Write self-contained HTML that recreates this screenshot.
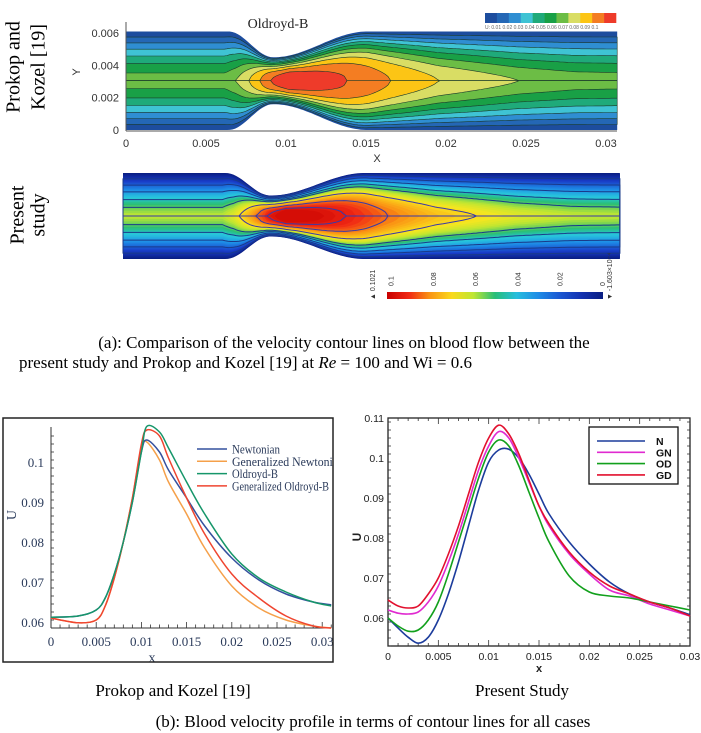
<!DOCTYPE html>
<html><head><meta charset="utf-8"><style>
html,body{margin:0;padding:0;background:#fff;}
body{width:701px;height:733px;overflow:hidden;position:relative;font-family:"Liberation Serif",serif;}
svg{position:absolute;left:0;top:0;}
</style></head><body>
<svg id="fig" width="701" height="733" viewBox="0 0 701 733" xmlns="http://www.w3.org/2000/svg">
<g id="top1"></g>
<g id="top2"></g>
<g id="chartL"></g>
<g id="chartR"></g>
<text x="15" y="67" transform="rotate(-90 15 67)" text-anchor="middle" dominant-baseline="middle" font-size="20">Prokop  and</text>
<text x="40" y="67" transform="rotate(-90 40 67)" text-anchor="middle" dominant-baseline="middle" font-size="20">Kozel [19]</text>
<text x="19" y="215" transform="rotate(-90 19 215)" text-anchor="middle" dominant-baseline="middle" font-size="20">Present</text>
<text x="40" y="215" transform="rotate(-90 40 215)" text-anchor="middle" dominant-baseline="middle" font-size="20">study</text>
<text x="344" y="348" text-anchor="middle" font-size="17">(a): Comparison of the velocity contour lines on blood flow between the</text>
<text x="19" y="368" font-size="17">present study and Prokop and Kozel [19] at <tspan font-style="italic">Re</tspan> = 100 and Wi = 0.6</text>
<text x="173" y="696" text-anchor="middle" font-size="17">Prokop and Kozel [19]</text>
<text x="522" y="696" text-anchor="middle" font-size="17">Present Study</text>
<text x="373" y="727" text-anchor="middle" font-size="17">(b): Blood velocity profile in terms of contour lines for all cases</text>
</svg>
<script>
const NS="http://www.w3.org/2000/svg";
function mk(parent,tag,attrs,txt){const e=document.createElementNS(NS,tag);for(const k in attrs)e.setAttribute(k,attrs[k]);if(txt!==undefined)e.textContent=txt;parent.appendChild(e);return e;}

// ---------- line chart data ----------
const xsL=[0,0.003,0.005,0.006,0.007,0.008,0.009,0.010,0.0106,0.012,0.013,0.015,0.017,0.020,0.023,0.026,0.029,0.031];
const uL_N=[0.0612,0.0615,0.063,0.066,0.072,0.080,0.090,0.1025,0.1055,0.1025,0.098,0.091,0.084,0.076,0.0705,0.067,0.065,0.0643];
const uL_GN=[0.061,0.0598,0.0605,0.064,0.071,0.080,0.091,0.1035,0.105,0.1005,0.095,0.087,0.0785,0.069,0.0635,0.0605,0.059,0.0585];
const uL_OD=[0.0612,0.0615,0.063,0.066,0.072,0.080,0.090,0.1025,0.1089,0.1075,0.1035,0.095,0.087,0.077,0.071,0.0675,0.065,0.064];
const uL_GD=[0.061,0.0598,0.0605,0.064,0.071,0.080,0.091,0.1045,0.108,0.1065,0.101,0.091,0.082,0.072,0.066,0.0615,0.059,0.0585];
const xsR=[0,0.001,0.002,0.003,0.004,0.005,0.006,0.007,0.008,0.009,0.010,0.011,0.012,0.013,0.014,0.015,0.016,0.018,0.020,0.022,0.024,0.026,0.028,0.030];
const uR_N=[0.060,0.0575,0.0552,0.0537,0.0552,0.0595,0.066,0.074,0.083,0.092,0.099,0.102,0.1022,0.100,0.096,0.091,0.086,0.079,0.0735,0.069,0.066,0.064,0.0625,0.0608];
const uR_GN=[0.062,0.0612,0.061,0.0615,0.064,0.068,0.074,0.081,0.089,0.097,0.103,0.1066,0.105,0.100,0.094,0.088,0.083,0.076,0.071,0.067,0.0655,0.0635,0.062,0.0605];
const uR_OD=[0.060,0.058,0.0567,0.057,0.0595,0.064,0.071,0.079,0.087,0.095,0.1015,0.1045,0.103,0.098,0.0915,0.085,0.079,0.0705,0.0665,0.0655,0.065,0.064,0.063,0.062];
const uR_GD=[0.0645,0.063,0.0625,0.063,0.066,0.070,0.076,0.083,0.091,0.099,0.105,0.1082,0.106,0.101,0.0945,0.088,0.0835,0.0765,0.0715,0.068,0.066,0.064,0.0625,0.0605];
const xTicks=[0,0.005,0.01,0.015,0.02,0.025,0.03];
const xTickLabels=["0","0.005","0.01","0.015","0.02","0.025","0.03"];
const yTicksL=[0.06,0.07,0.08,0.09,0.1];
const yTickLabelsL=["0.06","0.07","0.08","0.09","0.1"];
const yTicksR=[0.06,0.07,0.08,0.09,0.1,0.11];
const yTickLabelsR=["0.06","0.07","0.08","0.09","0.1","0.11"];
const legendL=["Newtonian","Generalized Newtonian","Oldroyd-B","Generalized Oldroyd-B"];
const legendR=["N","GN","OD","GD"];

function smoothPath(pts){let d="M"+pts[0][0].toFixed(1)+","+pts[0][1].toFixed(1);
 for(let i=0;i<pts.length-1;i++){const p0=pts[Math.max(0,i-1)],p1=pts[i],p2=pts[i+1],p3=pts[Math.min(pts.length-1,i+2)];
  const c1=[p1[0]+(p2[0]-p0[0])/6,p1[1]+(p2[1]-p0[1])/6],c2=[p2[0]-(p3[0]-p1[0])/6,p2[1]-(p3[1]-p1[1])/6];
  d+=" C"+c1[0].toFixed(1)+","+c1[1].toFixed(1)+" "+c2[0].toFixed(1)+","+c2[1].toFixed(1)+" "+p2[0].toFixed(1)+","+p2[1].toFixed(1);}
 return d;}

// ----- left chart -----
(function(){
 const g=document.getElementById('chartL');
 const X=x=>51+x*9040, Y=u=>622-(u-0.06)*4000;
 mk(g,'line',{x1:51,y1:427,x2:51,y2:628,stroke:'#333','stroke-width':1});
 mk(g,'line',{x1:51,y1:628,x2:330,y2:628,stroke:'#333','stroke-width':1});
 for(let k=0;k<=31;k++){const x=X(k*0.001);mk(g,'line',{x1:x,y1:628,x2:x,y2:(k%5==0?622:624.5),stroke:'#333','stroke-width':0.8});}
 for(let k=0;k<=24;k++){const u=0.0585+k*0.002;const y=Y(u);if(y<428)break;mk(g,'line',{x1:51,y1:y,x2:54,y2:y,stroke:'#333','stroke-width':0.8});}
 xTicks.forEach((t,i)=>{const el=mk(g,'text',{x:X(t),y:646,'text-anchor':'middle','font-size':13,fill:'#2a3a5a'},xTickLabels[i]);
  });
 yTicksL.forEach((t,i)=>{const el=mk(g,'text',{x:44,y:Y(t)+5,'text-anchor':'end','font-size':13,fill:'#2a3a5a'},yTickLabelsL[i]);
  });
 let e=mk(g,'text',{x:13,y:515,'text-anchor':'middle','font-size':14,fill:'#2a3a5a',transform:'rotate(-90 13 515)','dominant-baseline':'middle'},'U');
 
 e=mk(g,'text',{x:152,y:662,'text-anchor':'middle','font-size':14,fill:'#2a3a5a'},'x');
 
 const series=[[uL_N,'#34509e'],[uL_GN,'#f5a04a'],[uL_OD,'#16966a'],[uL_GD,'#ef4530']];
 const names=['line-newtonian','line-generalized-newtonian','line-oldroyd-b','line-generalized-oldroyd-b'];
 const order=[1,0,3,2];
 order.forEach(i=>{const [vals,c]=series[i];const pts=xsL.map((x,j)=>[X(x),Y(vals[j])]);
  const p=mk(g,'path',{d:smoothPath(pts),fill:'none',stroke:c,'stroke-width':1.5});
  });
 const tl=[48,112,46,97];
 legendL.forEach((t,i)=>{const y=449+i*12.3;
  const l=mk(g,'line',{x1:197,y1:y,x2:227,y2:y,stroke:series[i][1],'stroke-width':1.5});
  
  const tx=mk(g,'text',{x:232,y:y+4.5,'font-size':12.5,fill:'#2a3a5a',textLength:tl[i],lengthAdjust:'spacingAndGlyphs'},t);
  });
 mk(g,'rect',{x:333,y:420,width:22,height:240,fill:'#fff'});
 e=mk(g,'rect',{x:3,y:418,width:330,height:244,fill:'none',stroke:'#222','stroke-width':1.5});
 
})();

// ----- right chart -----
(function(){
 const g=document.getElementById('chartR');
 const X=x=>388+x*10067, Y=u=>618-(u-0.06)*4000;
 const sans='"Liberation Sans",sans-serif';
 let e=mk(g,'rect',{x:388,y:418,width:302,height:228,fill:'none',stroke:'#222','stroke-width':1.3});
 
 for(let k=0;k<=30;k++){const x=X(k*0.001);const L=k%5==0?6:3;
  mk(g,'line',{x1:x,y1:646,x2:x,y2:646-L,stroke:'#333','stroke-width':0.8});mk(g,'line',{x1:x,y1:418,x2:x,y2:418+L,stroke:'#333','stroke-width':0.8});}
 for(let k=0;k<=30;k++){const u=0.053+k*0.002;const y=Y(u);if(y<418)break;const L=(Math.round(u*1000)%10==0)?6:3;
  mk(g,'line',{x1:388,y1:y,x2:388+L,y2:y,stroke:'#333','stroke-width':0.8});mk(g,'line',{x1:690,y1:y,x2:690-L,y2:y,stroke:'#333','stroke-width':0.8});}
 xTicks.forEach((t,i)=>{const el=mk(g,'text',{x:X(t),y:660,'text-anchor':'middle','font-size':10.5,'font-family':sans,fill:'#222'},xTickLabels[i]);
  });
 yTicksR.forEach((t,i)=>{const el=mk(g,'text',{x:384,y:Y(t)+4,'text-anchor':'end','font-size':10.5,'font-family':sans,fill:'#222'},yTickLabelsR[i]);
  });
 e=mk(g,'text',{x:358,y:537,'text-anchor':'middle','font-size':12,'font-family':sans,'font-weight':'bold',fill:'#222',transform:'rotate(-90 358 537)','dominant-baseline':'middle'},'U');
 
 e=mk(g,'text',{x:539,y:672,'text-anchor':'middle','font-size':11,'font-family':sans,'font-weight':'bold',fill:'#222'},'x');
 
 const series=[[uR_N,'#1c3c9c'],[uR_GN,'#e02ad0'],[uR_OD,'#12a01c'],[uR_GD,'#e2102e']];
 const names=['line-n','line-gn','line-od','line-gd'];
 series.forEach(([vals,c],i)=>{const pts=xsR.map((x,j)=>[X(x),Y(vals[j])]);
  const p=mk(g,'path',{d:smoothPath(pts),fill:'none',stroke:c,'stroke-width':1.6});
  });
 e=mk(g,'rect',{x:589,y:427,width:89,height:57,fill:'#fff',stroke:'#111','stroke-width':1.3});
 
 legendR.forEach((t,i)=>{const y=441+i*11.3;
  const l=mk(g,'line',{x1:597,y1:y,x2:645,y2:y,stroke:series[i][1],'stroke-width':1.6});
  
  const tx=mk(g,'text',{x:656,y:y+4,'font-size':10.5,'font-family':sans,'font-weight':'bold',fill:'#111'},t);
  });
})();

// ---------- contour plots ----------
const A=0.0064,M=0.0092,B=0.0151,D=0.0016,YC=0.00305,H0=0.00305;
function bump(x){if(x<=A||x>=B)return 0;if(x<M)return (1-Math.cos(Math.PI*(x-A)/(M-A)))/2;return (1+Math.cos(Math.PI*(x-M)/(B-M)))/2;}
const umx=[[0,0.065],[0.0062,0.065],[0.0069,0.07],[0.0077,0.08],[0.0084,0.09],[0.0091,0.1],[0.0102,0.109],[0.0115,0.106],[0.0138,0.1],[0.0165,0.09],[0.0195,0.08],[0.0245,0.07],[0.028,0.066],[0.032,0.065]];
function umax(x){for(let i=0;i<umx.length-1;i++){if(x<=umx[i+1][0]){const t=(x-umx[i][0])/(umx[i+1][0]-umx[i][0]);return umx[i][1]+t*(umx[i+1][1]-umx[i][1]);}}return 0.065;}
function pw(x){const g=Math.max(0,Math.min(1,(umax(x)-0.065)/0.03));return 0.42+0.3*(1-g);}
function half(x){return H0-D*bump(x);}
function rad(x,L){const um=umax(x);if(L>=um)return 0;return half(x)*Math.pow(1-L/um,pw(x));}
function region(X,Y,L,x0,x1){const n=180;let top=[],bot=[];
 for(let i=0;i<=n;i++){const x=x0+(x1-x0)*i/n;const r=L<=0?half(x):rad(x,L);top.push([X(x),Y(YC+r)]);bot.push([X(x),Y(YC-r)]);}
 bot.reverse();return "M"+top.concat(bot).map(p=>p[0].toFixed(1)+","+p[1].toFixed(1)).join(" L")+"Z";}

// Prokop
(function(){
 const g=document.getElementById('top1');
 const X=x=>126+x*16000, Y=y=>130-y*16150;
 const cols=['#1d4d9e','#2467b5','#2f8ed2','#3fc3d4','#1faa7a','#19a046','#6cbd45','#d9dd64','#fcc515','#f47d22','#ee3b2a'];
 const x1=0.0307;
 cols.forEach((c,i)=>{const L=i*0.01;const p=mk(g,'path',{d:region(X,Y,L,0,x1),fill:c,stroke:i>0?'#1a3a2a':'none','stroke-width':0.6});
  });
 mk(g,'line',{x1:126,y1:22,x2:126,y2:131,stroke:'#555','stroke-width':1});
 mk(g,'line',{x1:126,y1:131,x2:617,y2:131,stroke:'#555','stroke-width':1});
 const yt=[0,0.002,0.004,0.006],ytl=["0","0.002","0.004","0.006"];
 yt.forEach((t,i)=>{const e=mk(g,'text',{x:119,y:Y(t)+4,'text-anchor':'end','font-size':11,'font-family':'"Liberation Sans",sans-serif',fill:'#333'},ytl[i]);
  });
 xTicks.forEach((t,i)=>{const e=mk(g,'text',{x:X(t),y:147,'text-anchor':'middle','font-size':11,'font-family':'"Liberation Sans",sans-serif',fill:'#333'},xTickLabels[i]);
  });
 let e=mk(g,'text',{x:377,y:162,'text-anchor':'middle','font-size':11,'font-family':'"Liberation Sans",sans-serif',fill:'#333'},'X');
 
 e=mk(g,'text',{x:77,y:72,'text-anchor':'middle','font-size':11,'font-family':'"Liberation Sans",sans-serif',fill:'#333',transform:'rotate(-90 77 72)','dominant-baseline':'middle'},'Y');
 
 e=mk(g,'text',{x:278,y:28,'text-anchor':'middle','font-size':14,fill:'#222'},'Oldroyd-B');
 
 cols.forEach((c,i)=>{const w=131/11;const r=mk(g,'rect',{x:485+i*w,y:13,width:w+0.3,height:10,fill:c});
  });
 e=mk(g,'text',{x:485,y:29,'font-size':5,'font-family':'"Liberation Sans",sans-serif',fill:'#666'},'U:  0.01 0.02 0.03 0.04 0.05 0.06 0.07 0.08 0.09 0.1');
 
})();

// Present study
function jet(v){const t=Math.max(0,Math.min(1,v/0.1021));
 const stops=[[0,[10,30,130]],[0.15,[25,60,200]],[0.3,[30,140,230]],[0.42,[40,200,220]],[0.5,[40,190,120]],[0.6,[190,230,50]],[0.68,[250,230,30]],[0.8,[250,150,20]],[0.9,[240,40,20]],[1,[200,0,0]]];
 for(let i=0;i<stops.length-1;i++){if(t<=stops[i+1][0]){const f=(t-stops[i][0])/(stops[i+1][0]-stops[i][0]);const a=stops[i][1],b=stops[i+1][1];
  return 'rgb('+a.map((q,k)=>Math.round(q+f*(b[k]-q))).join(',')+')';}}return 'rgb(200,0,0)';}
(function(){
 const g=document.getElementById('top2');
 const X=x=>123+x*16030, Y=y=>216-(y-YC)*14100;
 const x1=0.031;
 for(let i=0;i<=52;i++){const L=i*0.002;const p=mk(g,'path',{d:region(X,Y,L-0.0005,0,x1),fill:jet(L*0.95)});
  }
 [0.012,0.024,0.036,0.048,0.058,0.075,0.09,0.1].forEach(L=>{const p=mk(g,'path',{d:region(X,Y,L,0,x1),fill:'none',stroke:L>0.07?'#3a3aa8':'#1a3a8a','stroke-width':1});
  });
 const bx=387,bw=216;
 const grad=mk(g,'defs',{});
 const lg=mk(grad,'linearGradient',{id:'cb',x1:0,y1:0,x2:1,y2:0});
 for(let i=0;i<=10;i++)mk(lg,'stop',{offset:i/10,'stop-color':jet(0.1021*(1-i/10))});
 let e=mk(g,'rect',{x:bx,y:292,width:bw,height:7,fill:'url(#cb)'});
 
 const cbv=[0.1,0.08,0.06,0.04,0.02,0],cbl=["0.1","0.08","0.06","0.04","0.02","0"];
 cbv.forEach((v,i)=>{const x=bx+bw*(0.1021-v)/0.1021;const t=mk(g,'text',{x:x+2,y:286,'font-size':7,'font-family':'"Liberation Sans",sans-serif',fill:'#333',transform:'rotate(-90 '+(x+2)+' 286)'},cbl[i]);
  });
 e=mk(g,'text',{x:375,y:300,'font-size':7,'font-family':'"Liberation Sans",sans-serif',fill:'#333',transform:'rotate(-90 375 300)'},'▲ 0.1021');
 
 e=mk(g,'text',{x:612,y:300,'font-size':7,'font-family':'"Liberation Sans",sans-serif',fill:'#333',transform:'rotate(-90 612 300)'},'▼ -1.603×10⁻⁴');
 
})();
</script>
</body></html>
